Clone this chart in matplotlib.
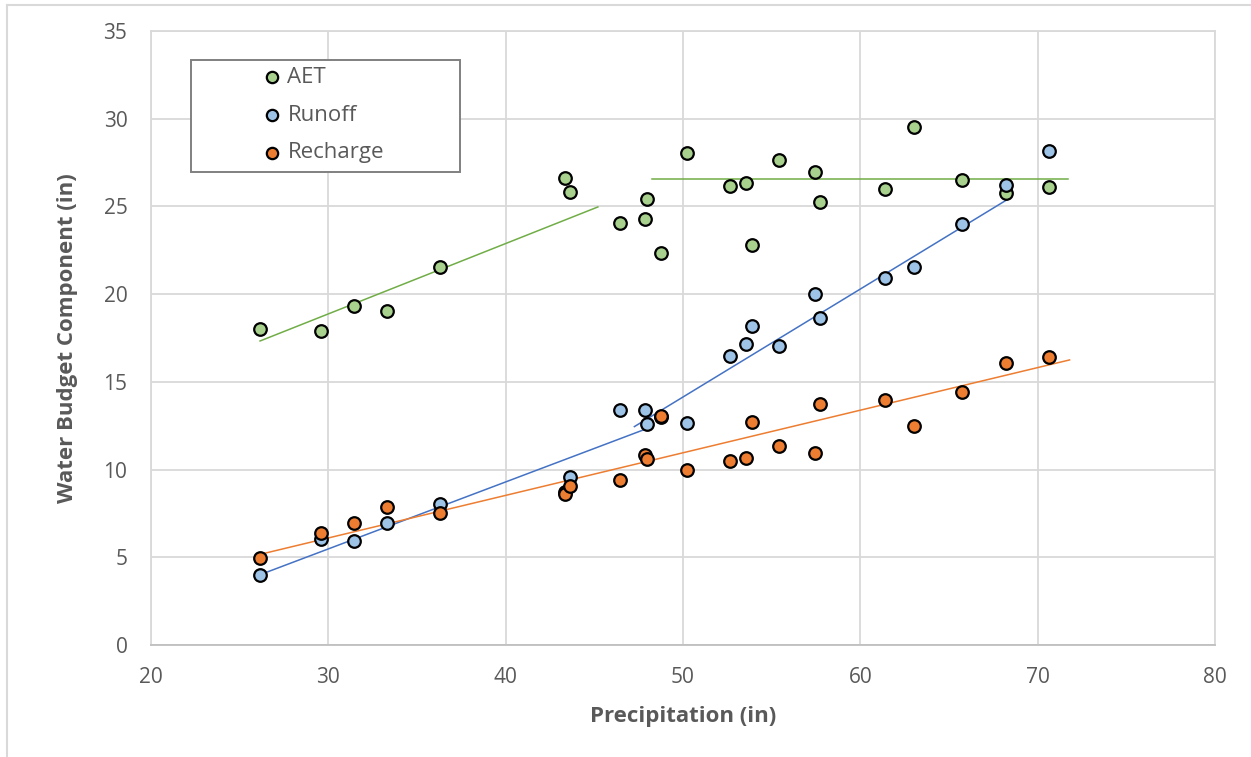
import matplotlib
matplotlib.use("Agg")
import matplotlib.pyplot as plt
from matplotlib.lines import Line2D
from matplotlib.patches import Rectangle

# ---- data ----
precip = [26.15, 29.6, 31.45, 33.3, 36.3, 43.35, 43.6, 46.45, 47.86, 47.97, 48.76,
          50.23, 52.66, 53.56, 53.9, 55.4, 57.45, 57.73, 61.4, 63.03, 65.74, 68.2, 70.65]
aet = [18.0, 17.9, 19.35, 19.05, 21.55, 26.6, 25.8, 24.06, 24.3, 25.4, 22.35,
       28.05, 26.17, 26.34, 22.8, 27.65, 26.97, 25.26, 26.0, 29.55, 26.5, 25.77, 26.1]
runoff = [4.0, 6.04, 5.93, 6.96, 8.04, 8.75, 9.6, 13.4, 13.4, 12.6, 13.0,
          12.65, 16.5, 17.15, 18.2, 17.05, 20.0, 18.65, 20.9, 21.55, 24.0, 26.2, 28.15]
recharge = [4.96, 6.39, 6.96, 7.87, 7.53, 8.6, 9.06, 9.4, 10.83, 10.6, 13.06,
            9.98, 10.5, 10.66, 12.7, 11.35, 10.95, 13.74, 13.97, 12.49, 14.42, 16.08, 16.42]

# trend line segments (x, y)
aet_trend1_x = [26.15, 45.2]
aet_trend1_y = [17.33, 24.97]
aet_trend2_x = [48.25, 71.7]
aet_trend2_y = [26.57, 26.57]
runoff_trend1_x = [26.0, 48.0]
runoff_trend1_y = [3.95, 12.35]
runoff_trend2_x = [47.26, 68.3]
runoff_trend2_y = [12.45, 25.4]
recharge_trend_x = [26.0, 71.8]
recharge_trend_y = [5.13, 16.25]

series = ["AET", "Runoff", "Recharge"]
xticks = [20, 30, 40, 50, 60, 70, 80]
yticks = [0, 5, 10, 15, 20, 25, 30, 35]

# ---- style ----
plt.rcParams['font.family'] = ['Open Sans', 'DejaVu Sans']
fill = {"AET": "#A9D18E", "Runoff": "#9DC3E6", "Recharge": "#ED7D31"}
line = {"AET": "#70AD47", "Runoff": "#4472C4", "Recharge": "#ED7D31"}
grid_c = "#D9D9D9"
text_c = "#595959"

W, H = 1251, 757
fig = plt.figure(figsize=(W/100, H/100), dpi=100)
ax = fig.add_axes([151/W, 1-645/H, (1215-151)/W, (645-31)/H])

# figure frame (left and top light gray lines)
fig.add_artist(Line2D([7/W, 7/W], [0, 1-5/H], transform=fig.transFigure,
                      color=grid_c, lw=1.5))
fig.add_artist(Line2D([7/W, 1], [1-5/H, 1-5/H], transform=fig.transFigure,
                      color=grid_c, lw=1.5))

ax.set_xlim(20, 80)
ax.set_ylim(0, 35)
ax.set_xticks(xticks)
ax.set_yticks(yticks)
ax.grid(True, color=grid_c, lw=1.3, zorder=0)
ax.set_axisbelow(True)
for s in ["top", "right", "left"]:
    ax.spines[s].set_color(grid_c)
    ax.spines[s].set_linewidth(1.3)
ax.spines["bottom"].set_color("#BFBFBF")
ax.spines["bottom"].set_linewidth(1.3)
ax.tick_params(length=0, labelsize=15, labelcolor=text_c)
ax.tick_params(axis='y', pad=17)
ax.tick_params(axis='x', pad=16)

ms = 82
for name, vals in zip(series, [aet, runoff, recharge]):
    ax.scatter(precip, vals, s=ms, c=fill[name], edgecolors="black",
               linewidths=1.6, zorder=3, label=name)

ax.plot(aet_trend1_x, aet_trend1_y, color=line["AET"], lw=1.1, zorder=2)
ax.plot(aet_trend2_x, aet_trend2_y, color=line["AET"], lw=1.1, zorder=2)
ax.plot(runoff_trend1_x, runoff_trend1_y, color=line["Runoff"], lw=1.1, zorder=2)
ax.plot(runoff_trend2_x, runoff_trend2_y, color=line["Runoff"], lw=1.1, zorder=2)
ax.plot(recharge_trend_x, recharge_trend_y, color=line["Recharge"], lw=1.1, zorder=2)

ax.set_xlabel("Precipitation (in)", fontsize=16, fontweight="bold", color=text_c, labelpad=13)
ax.set_ylabel("Water Budget Component (in)", fontsize=16, fontweight="bold", color=text_c, labelpad=18)

# legend box
lx0, ly0 = 191, 60
lx1, ly1 = 460, 172
fig.add_artist(Rectangle((lx0/W, 1-ly1/H), (lx1-lx0)/W, (ly1-ly0)/H,
                         transform=fig.transFigure, facecolor="white",
                         edgecolor="#808080", lw=1.4, zorder=4))
leg = fig.legend(loc="upper left", bbox_to_anchor=(263/W, 1-67/H),
                 frameon=False, fontsize=16, labelcolor=text_c,
                 handletextpad=0.3, borderpad=0.0, labelspacing=0.75,
                 markerscale=0.9, handlelength=0.8, borderaxespad=0)
leg.set_zorder(5)

fig.savefig("out.png", dpi=100, facecolor="white")
